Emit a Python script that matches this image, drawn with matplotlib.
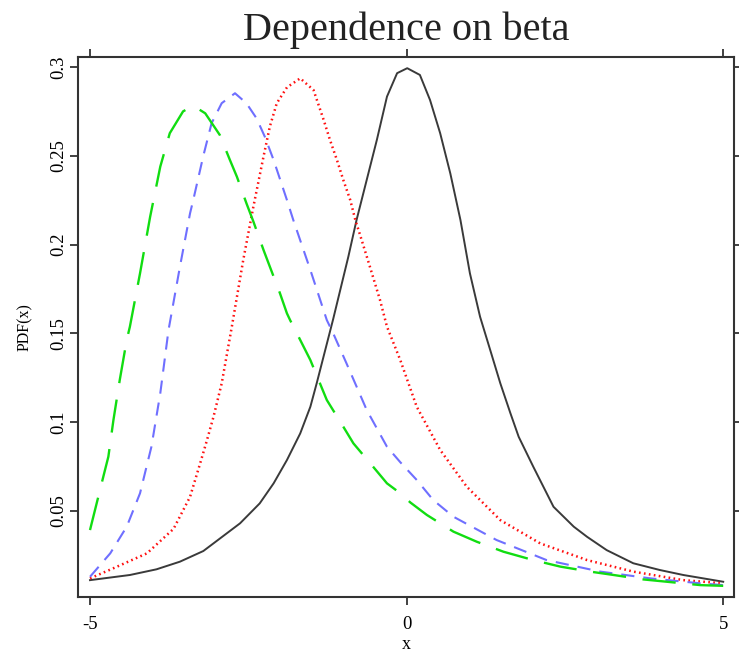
import matplotlib
matplotlib.use("Agg")
import matplotlib.pyplot as plt

# values
black_x = [-5.0, -4.37, -3.95, -3.58, -3.21, -3.05, -2.63, -2.32, -2.10, -1.89, -1.68, -1.52, -1.42, -1.16,
           -0.92, -0.79, -0.63, -0.47, -0.31, -0.15, 0.01, 0.21, 0.37, 0.53, 0.69, 0.85, 1.0,
           1.16, 1.32, 1.48, 1.64, 1.77, 2.0, 2.32, 2.64, 2.85, 3.16, 3.58, 4.0, 4.37, 5.0]
black_y = [0.0111, 0.0140, 0.0172, 0.0215, 0.0275, 0.0318, 0.0431, 0.0543, 0.0656, 0.0787, 0.0937, 0.1087, 0.1219, 0.1580,
           0.1932, 0.2139, 0.2364, 0.2589, 0.2833, 0.2965, 0.2993, 0.2955, 0.2814, 0.2627, 0.2401, 0.2139, 0.1838,
           0.1594, 0.1407, 0.1219, 0.1050, 0.0918, 0.0750, 0.0524, 0.0412, 0.0355, 0.0280, 0.0206, 0.0168, 0.0140, 0.0102]

red_x = [-5.0, -4.63, -4.10, -3.68, -3.42, -3.26, -3.16, -3.05, -2.92, -2.76, -2.58, -2.42, -2.26,
         -2.16, -2.05, -1.89, -1.68, -1.47, -1.31, -1.21, -1.10, -1.0, -0.89, -0.81, -0.71, -0.58,
         -0.42, -0.31, -0.10, 0.16, 0.53, 0.95, 1.48, 2.11, 2.85, 3.58, 4.37, 5.0]
red_y = [0.0121, 0.0178, 0.0262, 0.0400, 0.0580, 0.0769, 0.0890, 0.1030, 0.1219, 0.1538, 0.1913, 0.2213, 0.2495,
         0.2664, 0.2796, 0.2885, 0.2936, 0.2870, 0.2702, 0.2589, 0.2476, 0.2364, 0.2251, 0.2139, 0.2026, 0.1876,
         0.1688, 0.1538, 0.1350, 0.1087, 0.0844, 0.0637, 0.0449, 0.0318, 0.0224, 0.0159, 0.0111, 0.0093]

blue_x = [-5.0, -4.68, -4.42, -4.21, -4.03, -3.89, -3.76, -3.58, -3.42, -3.37, -3.21, -3.08, -2.92,
          -2.71, -2.53, -2.37, -2.24, -2.10, -1.89, -1.79, -1.52, -1.26, -1.16, -0.95, -0.63, -0.31,
          -0.10, 0.16, 0.42, 0.74, 1.42, 2.21, 3.06, 3.85, 4.64, 5.0]
blue_y = [0.0130, 0.0262, 0.0412, 0.0600, 0.0862, 0.1163, 0.1519, 0.1875, 0.2176, 0.2250, 0.2500, 0.2683, 0.2796,
          0.2852, 0.2796, 0.2711, 0.2608, 0.2476, 0.2251, 0.2139, 0.1857, 0.1575, 0.1501, 0.1332, 0.1069, 0.0862,
          0.0775, 0.0675, 0.0562, 0.0468, 0.0337, 0.0224, 0.0159, 0.0121, 0.0093, 0.0083]

green_x = [-5.0, -4.79, -4.71, -4.63, -4.53, -4.42, -4.37, -4.21, -4.05, -3.89, -3.74, -3.53, -3.37,
           -3.18, -2.95, -2.79, -2.68, -2.53, -2.42, -2.26, -2.16, -2.0, -1.89, -1.84, -1.68, -1.52,
           -1.26, -1.0, -0.84, -0.53, -0.31, -0.10, 0.06, 0.32, 0.74, 1.11, 1.53, 2.0, 2.43, 2.90,
           3.27, 3.74, 4.11, 4.64, 5.0]
green_y = [0.0393, 0.0693, 0.0806, 0.1012, 0.1238, 0.1463, 0.1538, 0.1838, 0.2157, 0.2439, 0.2627, 0.2750, 0.2782,
           0.2739, 0.2617, 0.2476, 0.2382, 0.2233, 0.2130, 0.1970, 0.1876, 0.1726, 0.1613, 0.1575, 0.1463, 0.1350,
           0.1125, 0.0975, 0.0881, 0.0750, 0.0656, 0.0600, 0.0548, 0.0478, 0.0384, 0.0327, 0.0271, 0.0224, 0.0187, 0.0159,
           0.0140, 0.0115, 0.0102, 0.0083, 0.0079]

x_ticks = [-5, 0, 5]
x_tick_labels = ["-5", "0", "5"]
y_ticks = [0.05, 0.1, 0.15, 0.2, 0.25, 0.3]
y_tick_labels = ["0.05", "0.1", "0.15", "0.2", "0.25", "0.3"]

plt.rcParams["font.family"] = ["Liberation Serif", "DejaVu Serif"]
plt.rcParams["lines.scale_dashes"] = False

fig = plt.figure(figsize=(7.39, 6.56), dpi=100)
ax = fig.add_axes([0.1055, 0.0899, 0.8877, 0.8232])

ax.plot(black_x, black_y, color="#3a3a3a", lw=1.4)
ax.plot(red_x, red_y, color="#ff1010", lw=1.8, dashes=(1.2, 2.4))
ax.plot(blue_x, blue_y, color="#6f6fff", lw=1.5, dashes=(9.5, 6.5))
ax.plot(green_x, green_y, color="#11dd11", lw=1.7, dashes=(24, 12))

ax.set_xlim(-5.19, 5.17)
ax.set_ylim(0.0016, 0.3056)

ax.set_xticks(x_ticks)
ax.set_xticklabels(x_tick_labels, fontsize=13.5)
ax.set_yticks(y_ticks)
ax.set_yticklabels(y_tick_labels, fontsize=13.5, rotation=90, va="center")
ax.tick_params(direction="out", length=6, width=1.3, color="#333333",
               top=True, right=True, labeltop=False, labelright=False)
ax.tick_params(axis="x", pad=8)
ax.tick_params(axis="y", pad=2)

for s in ax.spines.values():
    s.set_linewidth(1.5)
    s.set_color("#333333")

ax.set_title("Dependence on beta", fontsize=29, pad=12, color="#222222")
ax.set_ylabel("PDF(x)", fontsize=11.5, labelpad=12)
ax.set_xlabel("x", fontsize=13, labelpad=2)

fig.savefig("out.png", dpi=100)
